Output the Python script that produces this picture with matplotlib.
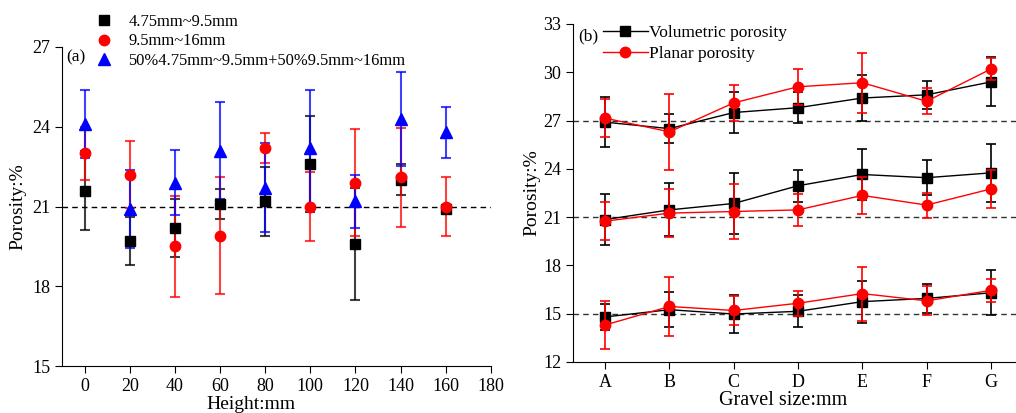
import matplotlib.pyplot as plt
import numpy as np

plt.rcParams['font.family'] = ['Liberation Serif', 'DejaVu Serif']
plt.rcParams['mathtext.fontset'] = 'stix'

# ---- panel (a) data ----
heights = [0, 20, 40, 60, 80, 100, 120, 140, 160]
small_val = [21.6, 19.7, 20.2, 21.1, 21.2, 22.6, 19.6, 22.0, 20.9]
small_err = [1.5, 0.9, 1.1, 0.57, 1.3, 1.8, 2.1, 0.58, 0.1]
large_val = [23.0, 22.2, 19.5, 19.9, 23.2, 21.0, 21.9, 22.1, 21.0]
large_err = [1.0, 1.26, 1.9, 2.2, 0.56, 1.3, 2.0, 1.86, 1.1]
mix_val = [24.1, 20.9, 21.9, 23.1, 21.7, 23.2, 21.2, 24.3, 23.8]
mix_err = [1.27, 1.46, 1.23, 1.83, 1.67, 2.2, 1.0, 1.77, 0.96]
labels_a = ['4.75mm~9.5mm', '9.5mm~16mm', '50%4.75mm~9.5mm+50%9.5mm~16mm']

# ---- panel (b) data ----
gravel = ['A', 'B', 'C', 'D', 'E', 'F', 'G']
vol_top = [26.9, 26.5, 27.5, 27.8, 28.4, 28.6, 29.4]
vol_top_err = [1.55, 0.9, 1.3, 0.95, 1.45, 0.87, 1.52]
pla_top = [27.15, 26.3, 28.1, 29.1, 29.35, 28.2, 30.2]
pla_top_err = [1.16, 2.38, 1.1, 1.13, 1.85, 0.8, 0.7]
vol_mid = [20.85, 21.45, 21.85, 22.95, 23.65, 23.45, 23.75]
vol_mid_err = [1.6, 1.65, 1.9, 1.0, 1.57, 1.1, 1.82]
pla_mid = [20.75, 21.25, 21.35, 21.45, 22.35, 21.75, 22.75]
pla_mid_err = [1.2, 1.5, 1.73, 1.0, 1.17, 0.78, 1.2]
vol_low = [14.8, 15.25, 14.98, 15.15, 15.75, 15.95, 16.3]
vol_low_err = [0.8, 1.1, 1.2, 1.0, 1.3, 0.9, 1.4]
pla_low = [14.3, 15.45, 15.2, 15.65, 16.25, 15.8, 16.45]
pla_low_err = [1.47, 1.85, 0.9, 0.77, 1.68, 0.9, 0.7]
ref_lines_b = [27, 21, 15]

fig = plt.figure(figsize=(10.16, 4.13), dpi=100)

# ================= panel (a) =================
ax1 = fig.add_axes([0.061, 0.1138, 0.4222, 0.7724])
ax1.axhline(21, color='black', ls='--', lw=1.0, dashes=(4, 3), zorder=1)
series = [(small_val, small_err, 's', 'black', 6.5),
          (large_val, large_err, 'o', 'red', 7.5),
          (mix_val, mix_err, '^', 'blue', 8)]
handles = []
for (v, e, m, c, ms), lab in zip(series, labels_a):
    ax1.errorbar(heights, v, yerr=e, fmt='none', ecolor=c, elinewidth=1.5,
                 capsize=3.5, capthick=1.5, alpha=0.75, zorder=2)
    h, = ax1.plot(heights, v, ls='none', marker=m, color=c, ms=ms, zorder=3, label=lab)
    handles.append(h)
ax1.set_xlim(-10, 180)
ax1.set_ylim(15, 27)
ax1.set_xticks(np.arange(0, 181, 20))
ax1.set_yticks([15, 18, 21, 24, 27])
ax1.spines['top'].set_visible(False)
ax1.spines['right'].set_visible(False)
ax1.tick_params(labelsize=13, length=5, direction='out')
ax1.set_xlabel('Height:mm', fontsize=14)
ax1.xaxis.set_label_coords(0.44, -0.095)
ax1.set_ylabel('Porosity:%', fontsize=14, labelpad=4)
ax1.text(0.065, 0.862, '(a)', transform=fig.transFigure, fontsize=12.5, va='center')
fig.legend(handles=handles, loc='upper left', bbox_to_anchor=(0.083, 0.99),
           frameon=False, fontsize=11.9, handlelength=1.2, handletextpad=0.85,
           labelspacing=0.2, borderaxespad=0.2)

# ================= panel (b) =================
ax2 = fig.add_axes([0.564, 0.1235, 0.4429, 0.8184])
x = np.arange(len(gravel))
for yref in ref_lines_b:
    ax2.axhline(yref, color='#333333', ls='--', lw=1.0, dashes=(4, 3), zorder=1)
groups = [(vol_top, vol_top_err, pla_top, pla_top_err),
          (vol_mid, vol_mid_err, pla_mid, pla_mid_err),
          (vol_low, vol_low_err, pla_low, pla_low_err)]
for vv, ve, pv, pe in groups:
    ax2.errorbar(x, vv, yerr=ve, color='black', marker='s', ms=6.5, lw=1.0,
                 elinewidth=1.2, capsize=3.5, capthick=1.2, zorder=3)
    ax2.errorbar(x, pv, yerr=pe, color='red', marker='o', ms=7.5, lw=1.0,
                 elinewidth=1.2, capsize=3.5, capthick=1.2, zorder=4)
ax2.set_xlim(-0.5, 6.5)
ax2.set_ylim(12, 33)
ax2.set_xticks(x)
ax2.set_xticklabels(gravel)
ax2.set_yticks(np.arange(12, 34, 3))
ax2.spines['top'].set_visible(False)
ax2.spines['right'].set_visible(False)
ax2.tick_params(labelsize=13, length=5, direction='out')
ax2.set_xlabel('Gravel size:mm', fontsize=14.5)
ax2.xaxis.set_label_coords(0.467, -0.085)
ax2.set_ylabel('Porosity:%', fontsize=14, labelpad=2)
ax2.text(0.569, 0.912, '(b)', transform=fig.transFigure, fontsize=12.5, va='center')
lh_v = plt.Line2D([], [], color='black', marker='s', ms=6.5, lw=1.0)
lh_p = plt.Line2D([], [], color='red', marker='o', ms=7.5, lw=1.0)
fig.legend(handles=[lh_v, lh_p], labels=['Volumetric porosity', 'Planar porosity'],
           loc='upper left', bbox_to_anchor=(0.583, 0.966), frameon=False,
           fontsize=12.5, handlelength=2.6, handletextpad=0.05, labelspacing=0.3,
           borderaxespad=0.2)

fig.savefig('out.png', dpi=100)
